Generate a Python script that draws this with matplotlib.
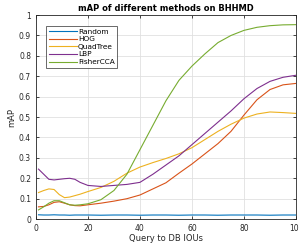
import matplotlib
matplotlib.use("Agg")
import matplotlib.pyplot as plt

# Query to DB IOU (%)
x = [1, 3, 5, 7, 9, 11, 13, 15, 17, 20, 25, 30, 35, 40, 45, 50, 55, 60, 65, 70, 75, 80, 85, 90, 95, 100]

random_map = [0.021, 0.02, 0.02, 0.021, 0.02, 0.02, 0.019, 0.02, 0.02, 0.02, 0.019, 0.02, 0.02, 0.019, 0.02,
              0.02, 0.019, 0.02, 0.02, 0.019, 0.02, 0.02, 0.02, 0.019, 0.02, 0.02]
hog = [0.06, 0.062, 0.07, 0.082, 0.085, 0.078, 0.07, 0.066, 0.065, 0.07, 0.078, 0.088, 0.1, 0.118, 0.148,
       0.178, 0.225, 0.27, 0.32, 0.37, 0.43, 0.51, 0.585, 0.635, 0.658, 0.665]
quadtree = [0.13, 0.14, 0.148, 0.145, 0.12, 0.105, 0.108, 0.115, 0.122, 0.135, 0.155, 0.185, 0.225, 0.255, 0.277,
            0.297, 0.32, 0.35, 0.39, 0.43, 0.465, 0.495, 0.515, 0.525, 0.522, 0.518]
lbp = [0.245, 0.22, 0.195, 0.192, 0.195, 0.198, 0.2, 0.195, 0.18, 0.165, 0.16, 0.165, 0.17, 0.18, 0.22,
       0.265, 0.31, 0.365, 0.42, 0.475, 0.53, 0.59, 0.64, 0.675, 0.695, 0.705]
fishercca = [0.045, 0.06, 0.078, 0.09, 0.09, 0.08, 0.07, 0.068, 0.07, 0.075, 0.095, 0.14, 0.22, 0.34, 0.46,
             0.58, 0.68, 0.75, 0.81, 0.865, 0.9, 0.925, 0.94, 0.948, 0.952, 0.953]

names = ["Random", "HOG", "QuadTree", "LBP", "FisherCCA"]
colors = ["#0072BD", "#D95319", "#EDB120", "#7E2F8E", "#77AC30"]

fig = plt.figure(figsize=(2.99, 2.47), dpi=100)
ax = fig.add_axes([0.12, 0.113, 0.87, 0.826])

for ys, name, c in zip([random_map, hog, quadtree, lbp, fishercca], names, colors):
    ax.plot(x, ys, color=c, lw=0.8, label=name)

ax.set_xlim(0, 100)
ax.set_ylim(0, 1)
ax.set_xticks([0, 20, 40, 60, 80, 100])
ax.set_yticks([i / 10 for i in range(11)])
ax.set_yticklabels(["0", "0.1", "0.2", "0.3", "0.4", "0.5", "0.6", "0.7", "0.8", "0.9", "1"])
ax.grid(True, color="#e0e0e0", lw=0.6)
ax.tick_params(direction="in", top=True, right=True, labelsize=5.5, length=2.5, width=0.6, colors="#262626")
for s in ax.spines.values():
    s.set_linewidth(0.6)
    s.set_color("#262626")

ax.set_title("mAP of different methods on BHHMD", fontsize=6, fontweight="bold", pad=3)
ax.set_xlabel("Query to DB IOUs", fontsize=6, labelpad=1, color="#262626")
ax.set_ylabel("mAP", fontsize=6, labelpad=2, color="#262626")

leg = ax.legend(loc="upper left", bbox_to_anchor=(0.025, 0.965), fontsize=5.3, handlelength=3.8,
                frameon=True, fancybox=False, edgecolor="#262626", borderpad=0.35, labelspacing=0.2,
                handletextpad=0.2)
leg.get_frame().set_linewidth(0.6)

fig.savefig("out.png", dpi=100)
